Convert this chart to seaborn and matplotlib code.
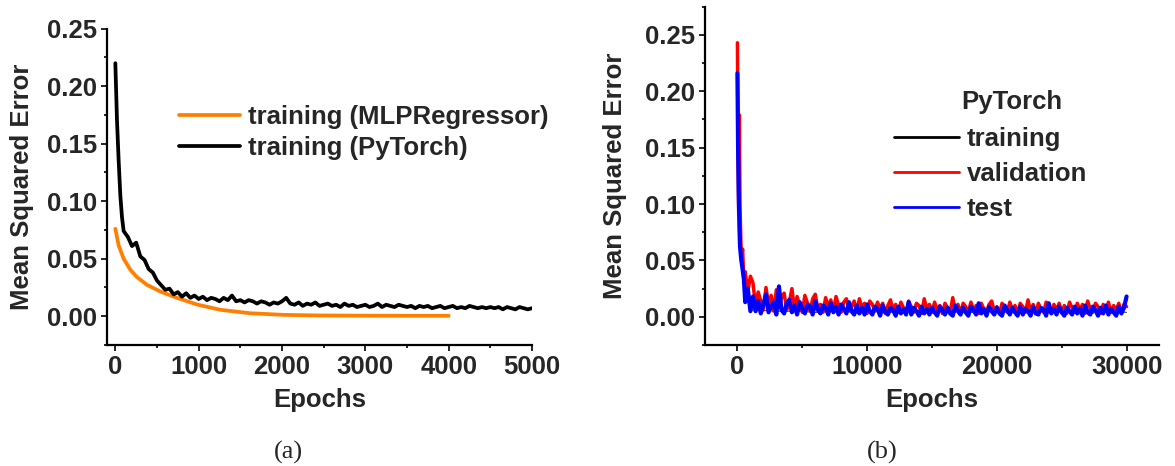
import numpy as np
import pandas as pd
import matplotlib
matplotlib.use("Agg")
import matplotlib.pyplot as plt
import seaborn as sns
from matplotlib.ticker import MultipleLocator

# ---- panel (a): MLPRegressor vs PyTorch training loss ----
mlp_epochs = [0, 40, 100, 180, 260, 380, 540, 740, 980, 1260, 1620, 2020, 2420, 3000, 3500, 4000]
mlp_mse = [0.076, 0.0616, 0.050, 0.0404, 0.034, 0.0273, 0.0215, 0.016, 0.0102, 0.0056,
           0.0026, 0.0012, 0.0007, 0.0005, 0.0004, 0.0004]

torch_epochs = [0, 20, 40, 60, 80, 100] + list(range(150, 5001, 50))
torch_mse = [0.220, 0.170, 0.135, 0.105, 0.086, 0.074,
             0.069, 0.061, 0.064, 0.052, 0.049, 0.041, 0.038, 0.031,
             0.027, 0.023, 0.024, 0.019, 0.021, 0.017, 0.020, 0.016, 0.018, 0.015,
             0.017, 0.014, 0.016, 0.015, 0.013, 0.016, 0.014, 0.018, 0.013, 0.014,
             0.012, 0.014, 0.013, 0.011, 0.013, 0.012, 0.010, 0.012, 0.011, 0.013,
             0.016, 0.011, 0.010, 0.012, 0.009, 0.011, 0.010, 0.012, 0.009, 0.010,
             0.011, 0.009, 0.010, 0.008, 0.011, 0.009, 0.010, 0.008, 0.009, 0.010,
             0.008, 0.009, 0.011, 0.008, 0.010, 0.009, 0.008, 0.010, 0.009, 0.008,
             0.009, 0.007, 0.009, 0.008, 0.009, 0.007, 0.008, 0.009, 0.007, 0.008,
             0.009, 0.007, 0.008, 0.007, 0.009, 0.008, 0.007, 0.008, 0.007, 0.008,
             0.007, 0.008, 0.006, 0.008, 0.007, 0.006, 0.008, 0.007, 0.006, 0.007]

# ---- panel (b): PyTorch training / validation / test ----
early_epochs = [0, 50, 100, 150, 200, 300, 400, 500, 600, 800, 1000]
late_epochs = list(range(1200, 30001, 200))

val_early = [0.243, 0.140, 0.090, 0.179, 0.098, 0.051, 0.060, 0.030, 0.040, 0.022, 0.036]
# later epochs, values in units of 1e-3
val_late_milli = [30, 9, 22, 14, 6, 26, 11, 19, 5, 24,
                  8, 17, 21, 6, 13, 25, 7, 18, 10, 4,
                  19, 12, 5, 16, 20, 7, 11, 4, 17, 9,
                  15, 5, 18, 10, 4, 13, 16, 6, 9, 14,
                  4, 16, 8, 12, 3, 14, 11, 5, 13, 7,
                  12, 3, 10, 15, 6, 11, 4, 13, 8, 3,
                  14, 9, 4, 12, 10, 3, 16, 7, 11, 4,
                  13, 6, 10, 3, 12, 8, 4, 17, 5, 11,
                  3, 12, 9, 4, 13, 6, 10, 3, 12, 7,
                  4, 11, 14, 5, 9, 3, 12, 8, 4, 13,
                  6, 10, 3, 12, 9, 4, 15, 5, 11, 3,
                  12, 7, 4, 13, 9, 3, 11, 6, 12, 4,
                  10, 3, 13, 8, 4, 12, 6, 11, 3, 14,
                  7, 4, 12, 9, 3, 11, 5, 13, 4, 10,
                  6, 12, 3, 11, 9]

test_early = [0.216, 0.150, 0.110, 0.080, 0.062, 0.050, 0.042, 0.033, 0.013, 0.025, 0.005]
test_late_milli = [18, 5, 14, 3, 11, 20, 4, 9, 13, 2,
                   27, 6, 3, 12, 15, 4, 10, 2, 13, 7,
                   3, 11, 9, 2, 14, 6, 3, 10, 8, 2,
                   12, 4, 9, 2, 11, 7, 3, 13, 5, 2,
                   10, 3, 8, 2, 11, 5, 2, 9, 7, 1,
                   10, 4, 2, 8, 6, 1, 9, 3, 7, 2,
                   13, 2, 8, 5, 1, 9, 3, 7, 2, 8,
                   4, 1, 9, 6, 2, 8, 3, 1, 10, 5,
                   2, 8, 4, 1, 9, 6, 2, 12, 3, 7,
                   1, 9, 5, 2, 8, 3, 1, 10, 6, 2,
                   8, 4, 1, 9, 2, 7, 5, 1, 9, 3,
                   2, 8, 6, 1, 12, 3, 7, 2, 9, 4,
                   1, 8, 5, 2, 9, 3, 7, 1, 10, 4,
                   2, 9, 6, 1, 8, 3, 10, 2, 7, 4,
                   1, 9, 3, 8, 18]

train_epochs = early_epochs + list(range(1500, 30001, 1500))
train_mse = [0.210, 0.140, 0.100, 0.075, 0.058, 0.045, 0.035, 0.025, 0.012, 0.018, 0.006,
             0.006, 0.005, 0.005, 0.004, 0.005, 0.004, 0.005, 0.004, 0.005, 0.004,
             0.005, 0.004, 0.005, 0.004, 0.005, 0.004, 0.005, 0.004, 0.005, 0.004]

sns.set_style("ticks")
plt.rcParams["font.family"] = ["Liberation Sans", "DejaVu Sans"]
plt.rcParams["font.weight"] = "bold"
plt.rcParams["axes.labelweight"] = "bold"

FS = 18.5

fig = plt.figure(figsize=(11.75, 4.66), dpi=100)
ax1 = fig.add_axes([107 / 1175, 121 / 466, 425 / 1175, 316.3 / 466])
ax2 = fig.add_axes([705 / 1175, 121 / 466, 454 / 1175, 338.3 / 466])

df_a = pd.concat([
    pd.DataFrame({"Epochs": mlp_epochs, "MSE": mlp_mse, "run": "training (MLPRegressor)"}),
    pd.DataFrame({"Epochs": torch_epochs, "MSE": torch_mse, "run": "training (PyTorch)"}),
])
sns.lineplot(data=df_a, x="Epochs", y="MSE", hue="run", ax=ax1, sort=False, estimator=None,
             palette={"training (MLPRegressor)": "#FF8000", "training (PyTorch)": "black"},
             linewidth=2.7)

all_epochs = early_epochs + late_epochs
val_mse = val_early + [v / 1000 for v in val_late_milli]
test_mse = test_early + [v / 1000 for v in test_late_milli]
df_b = pd.concat([
    pd.DataFrame({"Epochs": train_epochs, "MSE": train_mse, "set": "training"}),
    pd.DataFrame({"Epochs": all_epochs, "MSE": val_mse, "set": "validation"}),
    pd.DataFrame({"Epochs": all_epochs, "MSE": test_mse, "set": "test"}),
])
sns.lineplot(data=df_b, x="Epochs", y="MSE", hue="set", ax=ax2, sort=False, estimator=None,
             palette={"training": "black", "validation": "#FF0000", "test": "#0000FF"},
             linewidth=2.5)
# training curve is almost entirely hidden under the test curve in the original
lines2 = ax2.get_lines()
lines2[0].set_linewidth(0.6)
lines2[2].set_linewidth(3.0)

ax1.set_xlim(-100, 5000)
ax1.set_ylim(-0.025, 0.25)
ax1.xaxis.set_major_locator(MultipleLocator(1000))
ax1.xaxis.set_minor_locator(MultipleLocator(500))
ax2.set_xlim(-2500, 32500)
ax2.set_ylim(-0.025, 0.275)
ax2.xaxis.set_major_locator(MultipleLocator(10000))
ax2.xaxis.set_minor_locator(MultipleLocator(5000))

for ax in (ax1, ax2):
    sns.despine(ax=ax)
    ax.yaxis.set_major_locator(MultipleLocator(0.05))
    ax.yaxis.set_minor_locator(MultipleLocator(0.025))
    ax.yaxis.set_major_formatter(plt.FuncFormatter(lambda v, p: f"{v:.2f}"))
    ax.tick_params(which="major", direction="out", length=4, width=1.2, labelsize=FS, pad=3, color="black")
    ax.tick_params(which="minor", direction="out", length=2.5, width=1.2, color="black")
    for s in ("left", "bottom"):
        ax.spines[s].set_linewidth(1.6)
        ax.spines[s].set_color("black")
    ax.set_xlabel("Epochs", fontsize=FS, fontweight="bold")
    ax.set_ylabel("Mean Squared Error", fontsize=FS, fontweight="bold")

ax1.yaxis.set_label_coords(-0.172, 0.5)
ax1.xaxis.set_label_coords(0.5, -0.136)
ax2.yaxis.set_label_coords(-0.172, 0.5)
ax2.xaxis.set_label_coords(0.5, -0.128)

ax1.legend(loc="upper left", bbox_to_anchor=(0.169, 0.760), frameon=False, fontsize=FS,
           handlelength=2.4, handletextpad=0.3, labelspacing=0.3, borderpad=0, borderaxespad=0)
leg2 = ax2.legend(loc="upper left", bbox_to_anchor=(0.416, 0.645), frameon=False, fontsize=FS,
                  handlelength=2.53, handletextpad=0.3, labelspacing=0.44, borderpad=0, borderaxespad=0)
for line in leg2.get_lines():
    line.set_linewidth(2)
# legend title placed by hand, it sits right of the legend's centre in the original
ax2.text((1012 - 705) / 454, (345 - 102) / 338.3, "PyTorch", transform=ax2.transAxes,
         fontsize=FS, fontweight="bold", ha="center", va="center")

fig.text(288 / 1175, 1 - 452 / 466, "(a)", family=["Liberation Serif", "DejaVu Serif"],
         fontweight="normal", fontsize=19, ha="center", va="center")
fig.text(882 / 1175, 1 - 452 / 466, "(b)", family=["Liberation Serif", "DejaVu Serif"],
         fontweight="normal", fontsize=19, ha="center", va="center")

fig.savefig("out.png", dpi=100)
